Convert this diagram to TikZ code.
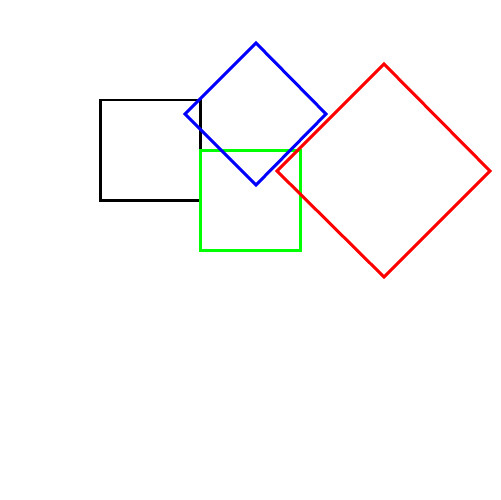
\documentclass[tikz,border=0pt]{standalone}
\begin{document}
\begin{tikzpicture}[x=0.02cm,y=-0.02cm,sq/.style={line width=0.06cm,line join=miter}]
\useasboundingbox (0,0) rectangle (500,500);
\fill[white] (0,0) rectangle (500,500);
\draw[sq,black] (100,100) rectangle (200,200);
\draw[sq,green] (200,150) rectangle (300,250);
\draw[sq,blue] (256,43) -- (326,114) -- (256,185) -- (185,114) -- cycle;
\draw[sq,red] (384,64) -- (490,171) -- (384,277) -- (277,171) -- cycle;
\end{tikzpicture}
\end{document}
